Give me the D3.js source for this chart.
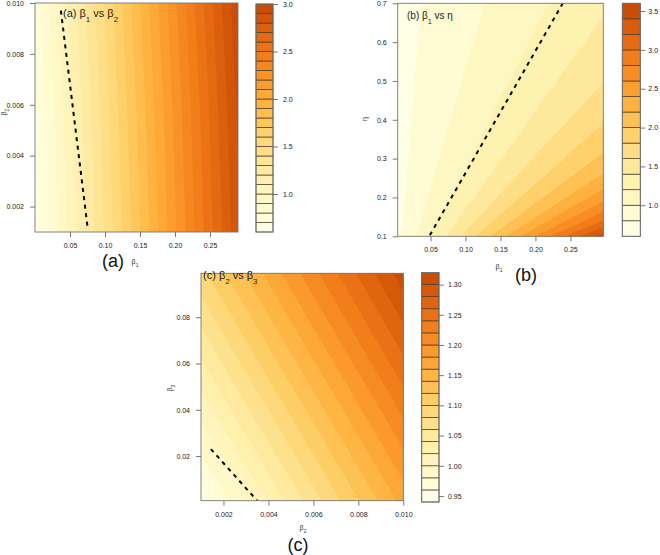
<!DOCTYPE html>
<html><head><meta charset="utf-8">
<script src="https://cdn.jsdelivr.net/npm/d3@7"></script>
<style>body{margin:0;background:#fff}svg{display:block}text{font-family:"Liberation Sans",Arial,sans-serif}</style>
</head><body><svg id="chart" width="660" height="555"></svg>
<script>
// ---------- Panel (a): beta1 vs beta2 ----------
const aXNodes = [0, 0.05, 0.10, 0.15, 0.20, 0.25, 0.29];
const aYNodes = [0.001, 0.0055, 0.010];
const aZ = [
  [0.641, 1.026, 1.411, 1.796, 2.181, 2.566, 2.874],
  [0.680, 1.065, 1.450, 1.835, 2.220, 2.605, 2.913],
  [0.740, 1.125, 1.510, 1.895, 2.280, 2.665, 2.973]
];
const aLevels = [0.6,0.7,0.8,0.9,1.0,1.1,1.2,1.3,1.4,1.5,1.6,1.7,1.8,1.9,2.0,2.1,2.2,2.3,2.4,2.5,2.6,2.7,2.8,2.9,3.0];
const aXTicks = [0.05, 0.10, 0.15, 0.20, 0.25];
const aYTicks = [0.002, 0.004, 0.006, 0.008, 0.010];
const aKeyTicks = [1.0, 1.5, 2.0, 2.5, 3.0];
const aDashed = [[0.037, 0.0097], [0.0755, 0.0011]];

// ---------- Panel (b): beta1 vs eta ----------
const bXNodes = [0.003, 0.05, 0.10, 0.15, 0.20, 0.25, 0.297];
const bYNodes = [0.1, 0.125, 0.15, 0.2, 0.25, 0.3, 0.4, 0.5, 0.6, 0.7];
const bZ = [
  [0.748, 1.188, 1.656, 2.124, 2.592, 3.060, 3.500],
  [0.745, 1.132, 1.544, 1.955, 2.367, 2.779, 3.166],
  [0.742, 1.088, 1.455, 1.823, 2.190, 2.558, 2.904],
  [0.738, 1.023, 1.325, 1.628, 1.931, 2.233, 2.518],
  [0.735, 0.977, 1.234, 1.492, 1.749, 2.006, 2.248],
  [0.733, 0.944, 1.167, 1.391, 1.615, 1.838, 2.048],
  [0.731, 0.897, 1.075, 1.252, 1.429, 1.607, 1.773],
  [0.729, 0.867, 1.014, 1.161, 1.308, 1.455, 1.593],
  [0.728, 0.845, 0.971, 1.096, 1.222, 1.347, 1.465],
  [0.727, 0.829, 0.939, 1.048, 1.158, 1.267, 1.370]
];
const bLevels = [0.6,0.8,1.0,1.2,1.4,1.6,1.8,2.0,2.2,2.4,2.6,2.8,3.0,3.2,3.4,3.6];
const bXTicks = [0.05, 0.10, 0.15, 0.20, 0.25];
const bYTicks = [0.1, 0.2, 0.3, 0.4, 0.5, 0.6, 0.7];
const bKeyTicks = [1.0, 1.5, 2.0, 2.5, 3.0, 3.5];
const bDashed = [[0.049, 0.103], [0.239, 0.7]];

// ---------- Panel (c): beta2 vs beta3 ----------
const cXNodes = [0.001, 0.004, 0.007, 0.010];
const cYNodes = [0.0007, 0.033, 0.066, 0.099];
const cZ = [
  [0.950, 1.022, 1.095, 1.167],
  [0.997, 1.070, 1.142, 1.214],
  [1.046, 1.118, 1.190, 1.263],
  [1.094, 1.166, 1.238, 1.311]
];
const cLevels = [0.94,0.96,0.98,1.00,1.02,1.04,1.06,1.08,1.10,1.12,1.14,1.16,1.18,1.20,1.22,1.24,1.26,1.28,1.30,1.32];
const cXTicks = [0.002, 0.004, 0.006, 0.008, 0.010];
const cYTicks = [0.02, 0.04, 0.06, 0.08];
const cKeyTicks = [0.95, 1.00, 1.05, 1.10, 1.15, 1.20, 1.25, 1.30];
const cDashed = [[0.00144, 0.023], [0.0035, 0.0007]];

const svg = d3.select("#chart");

function addParts(sel, parts, subSize) {
  parts.forEach(([s, isSub]) => {
    const ts = sel.append("tspan").text(s);
    if (isSub) ts.attr("font-size", subSize).attr("baseline-shift", "sub");
  });
}

function panel(p) {
  const [x0, x1, y0, y1] = p.box;
  const x = d3.scaleLinear().domain(p.xDomain).range([x0, x1]);
  const y = d3.scaleLinear().domain(p.yDomain).range([y1, y0]);
  const nx = p.xNodes.length, ny = p.yNodes.length;
  const gx = d3.scaleLinear().domain(p.xNodes.map((_, i) => i + 0.5)).range(p.xNodes.map(x));
  const gy = d3.scaleLinear().domain(p.yNodes.map((_, j) => j + 0.5)).range(p.yNodes.map(y));
  const nb = p.levels.length - 1;
  const color = i => d3.interpolateYlOrBr(0.75 * i / (nb - 1));
  const contours = d3.contours().size([nx, ny]).thresholds(p.levels.slice(0, -1))(p.z.flat());
  const path = d3.geoPath(d3.geoTransform({point(px, py) { this.stream.point(gx(px), gy(py)); }}));
  const cid = "clip-" + p.id;
  svg.append("clipPath").attr("id", cid).append("rect")
    .attr("x", x0).attr("y", y0).attr("width", x1 - x0).attr("height", y1 - y0);
  const g = svg.append("g").attr("clip-path", `url(#${cid})`);
  g.selectAll("path.band").data(contours).join("path").attr("class", "band")
    .attr("d", path).attr("fill", (d, i) => color(i)).attr("stroke", (d, i) => color(i)).attr("stroke-width", 0.3);
  g.append("path").datum(p.dashed)
    .attr("d", d3.line().x(d => x(d[0])).y(d => y(d[1])))
    .attr("fill", "none").attr("stroke", "#000").attr("stroke-width", 2).attr("stroke-dasharray", "4,4.5");

  // axes
  const ax = svg.append("g").attr("transform", `translate(0,${y1})`)
    .call(d3.axisBottom(x).tickValues(p.xTicks).tickFormat(d3.format(p.xFmt)).tickSize(5).tickSizeOuter(0).tickPadding(6));
  const ay = svg.append("g").attr("transform", `translate(${x0},0)`)
    .call(d3.axisLeft(y).tickValues(p.yTicks).tickFormat(d3.format(p.yFmt)).tickSize(5).tickSizeOuter(0).tickPadding(6));
  [ax, ay].forEach(a => {
    a.select(".domain").remove();
    a.selectAll("line").attr("stroke", "#555").attr("stroke-width", 0.8);
    a.selectAll("text").attr("font-size", 7).attr("fill", "#222").attr("font-family", "Liberation Sans, Arial, sans-serif");
  });
  svg.append("rect").attr("x", x0).attr("y", y0).attr("width", x1 - x0).attr("height", y1 - y0)
    .attr("fill", "none").attr("stroke", "#777").attr("stroke-width", 0.9);

  // title in plot
  const t = svg.append("text").attr("x", p.title.x).attr("y", p.title.y)
    .attr("font-size", p.title.size).attr("fill", "#222");
  addParts(t, p.title.parts, p.title.size * 0.72);

  // axis titles
  const xl = svg.append("text").attr("x", p.xlab.x).attr("y", p.xlab.y).attr("text-anchor", "middle")
    .attr("font-size", 7).attr("fill", "#333");
  addParts(xl, p.xlab.parts, 5);
  const yl = svg.append("text").attr("transform", `translate(${p.ylab.x},${p.ylab.y}) rotate(-90)`).attr("text-anchor", "middle")
    .attr("font-size", 7).attr("fill", "#333");
  addParts(yl, p.ylab.parts, 5);

  // big panel letter
  svg.append("text").attr("x", p.letter.x).attr("y", p.letter.y).attr("text-anchor", "middle")
    .attr("font-size", 18).attr("fill", "#111").text(p.letter.s);

  // colour key
  const [kx0, kx1, ky0, ky1] = p.key;
  const k = d3.scaleLinear().domain([p.levels[0], p.levels[nb]]).range([ky1, ky0]);
  svg.append("g").selectAll("rect").data(d3.range(nb)).join("rect")
    .attr("x", kx0).attr("width", kx1 - kx0)
    .attr("y", i => k(p.levels[i + 1])).attr("height", i => k(p.levels[i]) - k(p.levels[i + 1]))
    .attr("fill", i => color(i)).attr("stroke", "#4a3a2a").attr("stroke-width", 0.7);
  const ak = svg.append("g").attr("transform", `translate(${kx1},0)`)
    .call(d3.axisRight(k).tickValues(p.keyTicks).tickFormat(d3.format(p.keyFmt)).tickSize(5).tickSizeOuter(0).tickPadding(p.keyPad));
  ak.select(".domain").remove();
  ak.selectAll("line").attr("stroke", "#555").attr("stroke-width", 0.8);
  ak.selectAll("text").attr("font-size", 7).attr("fill", "#222").attr("font-family", "Liberation Sans, Arial, sans-serif");
  svg.append("rect").attr("x", kx0).attr("y", ky0).attr("width", kx1 - kx0).attr("height", ky1 - ky0)
    .attr("fill", "none").attr("stroke", "#777").attr("stroke-width", 0.9);
}

panel({
  id: "a", box: [35, 238, 3, 232], xDomain: [0, 0.29], yDomain: [0.001, 0.010],
  xNodes: aXNodes, yNodes: aYNodes, z: aZ, levels: aLevels,
  xTicks: aXTicks, yTicks: aYTicks, xFmt: ".2f", yFmt: ".3f", dashed: aDashed,
  title: {x: 63, y: 17, size: 11, parts: [["(a) β"], ["1", true], [" vs β"], ["2", true]]},
  xlab: {x: 135, y: 264, parts: [["β"], ["1", true]]},
  ylab: {x: 6, y: 112, parts: [["β"], ["2", true]]},
  letter: {x: 113, y: 267, s: "(a)"},
  key: [256, 273, 4, 232], keyTicks: aKeyTicks, keyFmt: ".1f", keyPad: 5
});
panel({
  id: "b", box: [397.7, 603.3, 3.3, 236.3], xDomain: [0.003, 0.297], yDomain: [0.1, 0.7],
  xNodes: bXNodes, yNodes: bYNodes, z: bZ, levels: bLevels,
  xTicks: bXTicks, yTicks: bYTicks, xFmt: ".2f", yFmt: ".1f", dashed: bDashed,
  title: {x: 407, y: 18.5, size: 10, parts: [["(b) β"], ["1", true], [" vs η"]]},
  xlab: {x: 499, y: 269, parts: [["β"], ["1", true]]},
  ylab: {x: 367, y: 119, parts: [["η"]]},
  letter: {x: 526, y: 281, s: "(b)"},
  key: [622.3, 640.3, 3.3, 236.3], keyTicks: bKeyTicks, keyFmt: ".1f", keyPad: 3
});
panel({
  id: "c", box: [201, 403.3, 273.3, 500.7], xDomain: [0.001, 0.010], yDomain: [0.0007, 0.099],
  xNodes: cXNodes, yNodes: cYNodes, z: cZ, levels: cLevels,
  xTicks: cXTicks, yTicks: cYTicks, xFmt: ".3f", yFmt: ".2f", dashed: cDashed,
  title: {x: 203, y: 279, size: 11, parts: [["(c) β"], ["2", true], [" vs β"], ["3", true]]},
  xlab: {x: 303, y: 530, parts: [["β"], ["2", true]]},
  ylab: {x: 172, y: 388, parts: [["β"], ["3", true]]},
  letter: {x: 298, y: 551, s: "(c)"},
  key: [421.7, 439, 272.5, 502], keyTicks: cKeyTicks, keyFmt: ".2f", keyPad: 4
});
</script>
</body></html>
